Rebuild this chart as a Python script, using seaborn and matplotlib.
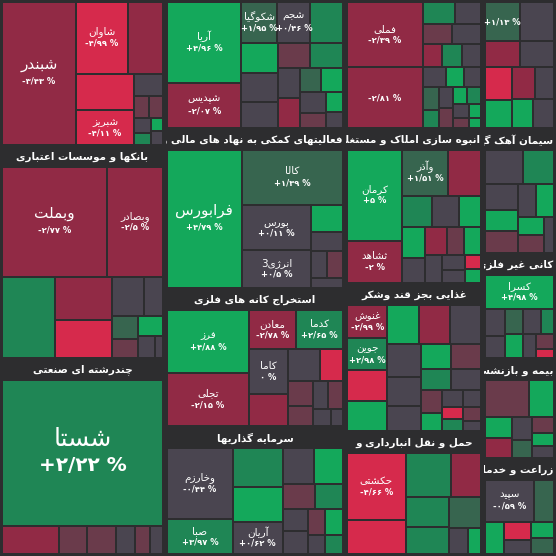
import re
import unicodedata
import matplotlib
matplotlib.use("Agg")
import matplotlib.pyplot as plt
from matplotlib.patches import Rectangle
from matplotlib.transforms import Bbox, TransformedBbox
import seaborn as sns

sns.set_theme(style="white")
plt.rcParams['font.family'] = ['DejaVu Sans']

BG = "#2d2d2f"
PALETTE = {
    'G3': "#14a85b", 'G2': "#1f8655", 'G1': "#37654f", 'N': "#4a4550",
    'R1': "#6a3b4b", 'R2': "#912a45", 'R3': "#d62a4c",
}

# column widths (market-cap shares of the visible window)
col_weights = [165, 180, 138, 73]

# each sector: (title, height weight, tiles); tile = (name, change, colour, size)
col1 = [
    (None, 147, [('شبندر', '-۳/۴۳ %', 'R2', 10000), ('شاوان', '-۴/۹۹ %', 'R3', 3500),
                 ('', '', 'R2', 2400), ('', '', 'R3', 2000), ('شبریز', '-۴/۱۱ %', 'R3', 1900),
                 ('', '', 'N', 600), ('', '', 'R1', 300), ('', '', 'R1', 300), ('', '', 'N', 250),
                 ('', '', 'G2', 200), ('', '', 'G3', 150), ('', '', 'N', 150)]),
    ('بانکها و موسسات اعتباری', 213,
     [('وبملت', '-۲/۷۷ %', 'R2', 9500), ('وبصادر', '-۲/۵ %', 'R2', 5000), ('', '', 'G2', 3500),
      ('', '', 'R2', 2000), ('', '', 'R3', 1800), ('', '', 'N', 1000), ('', '', 'N', 600),
      ('', '', 'G1', 500), ('', '', 'R1', 400), ('', '', 'G3', 400), ('', '', 'N', 300),
      ('', '', 'N', 150)]),
    ('چندرشته ای صنعتی', 196,
     [('شستا', '+۲/۲۲ %', 'G2', 27000), ('', '', 'R2', 1800), ('', '', 'R1', 900),
      ('', '', 'R1', 900), ('', '', 'N', 600), ('', '', 'R1', 500), ('', '', 'N', 400)]),
]
col2 = [
    (None, 130, [('آریا', '+۴/۹۶ %', 'G3', 4500), ('شپدیس', '-۲/۰۷ %', 'R2', 2500),
                 ('شکوگیا', '+۱/۹۵ %', 'G1', 1100), ('شجم', '+۰/۴۶ %', 'N', 1000),
                 ('', '', 'G2', 1000), ('', '', 'G3', 800), ('', '', 'N', 800), ('', '', 'N', 700),
                 ('', '', 'R1', 600), ('', '', 'G2', 600), ('', '', 'N', 500), ('', '', 'R2', 500),
                 ('', '', 'G1', 400), ('', '', 'G3', 400), ('', '', 'N', 400), ('', '', 'R1', 300),
                 ('', '', 'G3', 250), ('', '', 'N', 200)]),
    ('فعالیتهای کمکی به نهاد های مالی واسط', 160,
     [('فرابورس', '+۴/۷۹ %', 'G3', 9800), ('کالا', '+۱/۳۹ %', 'G1', 5300),
      ('بورس', '+۰/۱۱ %', 'N', 3000), ('انرژی3', '+۰/۵ %', 'N', 2500), ('', '', 'G3', 800),
      ('', '', 'N', 600), ('', '', 'N', 400), ('', '', 'R1', 400), ('', '', 'N', 300)]),
    ('استخراج کانه های فلزی', 138,
     [('فرز', '+۴/۸۸ %', 'G3', 5000), ('تجلی', '-۲/۱۵ %', 'R2', 4200),
      ('معادن', '-۲/۷۸ %', 'R2', 1800), ('کدما', '+۲/۶۵ %', 'G2', 1800), ('کاما', '۰ %', 'N', 1700),
      ('', '', 'R2', 1200), ('', '', 'N', 1000), ('', '', 'R3', 700), ('', '', 'R1', 600),
      ('', '', 'R1', 500), ('', '', 'N', 400), ('', '', 'R1', 400), ('', '', 'N', 300),
      ('', '', 'N', 200)]),
    ('سرمایه گذاریها', 128,
     [('وخارزم', '-۰/۴۴ %', 'N', 4100), ('صبا', '+۳/۹۷ %', 'G2', 2000), ('', '', 'G2', 1700),
      ('', '', 'G3', 1500), ('آریان', '+۰/۶۲ %', 'N', 1400), ('', '', 'N', 1000),
      ('', '', 'G3', 900), ('', '', 'R1', 700), ('', '', 'G2', 600), ('', '', 'N', 500),
      ('', '', 'N', 500), ('', '', 'R1', 400), ('', '', 'G3', 400), ('', '', 'N', 300),
      ('', '', 'G2', 300)]),
]
col3 = [
    (None, 130, [('فملی', '-۲/۳۹ %', 'R2', 4300), ('', '-۲/۸۱ %', 'R2', 4000),
                 ('', '', 'G2', 600), ('', '', 'N', 500), ('', '', 'R1', 500), ('', '', 'N', 500),
                 ('', '', 'R2', 400), ('', '', 'G2', 400), ('', '', 'N', 400), ('', '', 'N', 400),
                 ('', '', 'G3', 300), ('', '', 'N', 300), ('', '', 'G1', 300), ('', '', 'G2', 250),
                 ('', '', 'N', 250), ('', '', 'R1', 250), ('', '', 'G3', 200), ('', '', 'G2', 200),
                 ('', '', 'N', 200), ('', '', 'R1', 150), ('', '', 'G3', 150), ('', '', 'G3', 100)]),
    ('انبوه سازی املاک و مستغلات', 155,
     [('کرمان', '+۵ %', 'G3', 4300), ('ثشاهد', '-۲ %', 'R2', 2000), ('وآذر', '+۱/۵۱ %', 'G1', 1800),
      ('', '', 'R2', 1300), ('', '', 'G2', 800), ('', '', 'N', 700), ('', '', 'G3', 600),
      ('', '', 'G3', 600), ('', '', 'N', 500), ('', '', 'R2', 500), ('', '', 'R1', 400),
      ('', '', 'G3', 400), ('', '', 'N', 400), ('', '', 'N', 300), ('', '', 'N', 250),
      ('', '', 'R3', 200), ('', '', 'G3', 200)]),
    ('غذایی بجز قند وشکر', 148,
     [('غنوش', '-۲/۹۹ %', 'R2', 1100), ('جوین', '+۲/۹۸ %', 'G2', 1050), ('', '', 'R3', 1000),
      ('', '', 'G3', 1000), ('', '', 'G3', 1000), ('', '', 'R2', 1000), ('', '', 'N', 1000),
      ('', '', 'N', 900), ('', '', 'N', 800), ('', '', 'N', 700), ('', '', 'G3', 600),
      ('', '', 'R1', 600), ('', '', 'G2', 500), ('', '', 'N', 500), ('', '', 'R1', 400),
      ('', '', 'G3', 300), ('', '', 'N', 300), ('', '', 'N', 250), ('', '', 'R3', 200),
      ('', '', 'G2', 200), ('', '', 'R1', 200), ('', '', 'N', 150)]),
    ('حمل و نقل انبارداری و', 123,
     [('حکشتی', '-۴/۶۶ %', 'R3', 4800), ('', '', 'R3', 2400), ('', '', 'G2', 2400),
      ('', '', 'R2', 1600), ('', '', 'G2', 1600), ('', '', 'G2', 1400), ('', '', 'G1', 1200),
      ('', '', 'N', 600), ('', '', 'G3', 400)]),
]
col4 = [
    (None, 130, [('', '+۱/۱۳ %', 'G1', 900), ('', '', 'N', 900), ('', '', 'R2', 600),
                 ('', '', 'N', 600), ('', '', 'R3', 600), ('', '', 'G3', 500), ('', '', 'R2', 500),
                 ('', '', 'N', 400), ('', '', 'G3', 400), ('', '', 'N', 400)]),
    ('سیمان آهک گچ', 125,
     [('', '', 'N', 1100), ('', '', 'G2', 900), ('', '', 'N', 700), ('', '', 'G3', 600),
      ('', '', 'R1', 600), ('', '', 'N', 500), ('', '', 'G3', 500), ('', '', 'G3', 400),
      ('', '', 'R1', 400), ('', '', 'N', 300)]),
    ('کانی غیر فلزی', 105,
     [('کسرا', '+۴/۹۸ %', 'G3', 2200), ('', '', 'N', 500), ('', '', 'N', 400), ('', '', 'G1', 400),
      ('', '', 'G3', 400), ('', '', 'N', 400), ('', '', 'G2', 300), ('', '', 'N', 300),
      ('', '', 'R1', 250), ('', '', 'R3', 150)]),
    ('بیمه و بازنشستگی', 100,
     [('', '', 'R1', 1800), ('', '', 'G3', 1000), ('', '', 'G3', 600), ('', '', 'R2', 600),
      ('', '', 'N', 500), ('', '', 'G1', 400), ('', '', 'R1', 400), ('', '', 'G3', 300),
      ('', '', 'N', 300)]),
    ('زراعت و خدمات', 96,
     [('سپید', '-۰/۵۹ %', 'N', 1700), ('', '', 'G1', 700), ('', '', 'G3', 500), ('', '', 'R3', 400),
      ('', '', 'N', 300), ('', '', 'G3', 300), ('', '', 'G1', 300)]),
]
columns = [col1, col2, col3, col4]


# --- minimal Persian shaping (no external reshaper available) ---
FORMS = {}
for rng in (range(0xFB50, 0xFE00), range(0xFE70, 0xFF00)):
    for cp in rng:
        m = re.match(r'ARABIC LETTER (.+) (ISOLATED|FINAL|INITIAL|MEDIAL) FORM$',
                     unicodedata.name(chr(cp), ''))
        if not m:
            continue
        try:
            base = unicodedata.lookup('ARABIC LETTER ' + m.group(1))
        except KeyError:
            continue
        FORMS.setdefault(base, {}).setdefault(m.group(2).lower(), chr(cp))


def shape(text):
    out = []
    for i, c in enumerate(text):
        f = FORMS.get(c)
        if not f:
            out.append(c)
            continue
        prev = text[i - 1] if i > 0 else ''
        nxt = text[i + 1] if i + 1 < len(text) else ''
        p = prev in FORMS and 'initial' in FORMS[prev]
        n = nxt in FORMS and 'initial' in f
        if p and n and 'medial' in f:
            out.append(f['medial'])
        elif p and 'final' in f:
            out.append(f['final'])
        elif n:
            out.append(f['initial'])
        else:
            out.append(f.get('isolated', c))
    return ''.join(out)[::-1]


def squarify(sizes, x, y, w, h):
    total = sum(sizes)
    sizes = [s * w * h / total for s in sizes]
    rects = []
    while sizes:
        short = min(w, h)
        row = [sizes[0]]
        def worst(r):
            s = sum(r)
            return max(max(short * short * v / (s * s), s * s / (short * short * v)) for v in r)
        i = 1
        while i < len(sizes) and worst(row + [sizes[i]]) <= worst(row):
            row.append(sizes[i])
            i += 1
        sizes = sizes[i:]
        s = sum(row)
        if w >= h:
            rw = s / h
            yy = y
            for v in row:
                rects.append((x, yy, rw, v / rw))
                yy += v / rw
            x += rw
            w -= rw
        else:
            rh = s / w
            xx = x
            for v in row:
                rects.append((xx, y, v / rh, rh))
                xx += v / rh
            y += rh
            h -= rh
    return rects


fig = plt.figure(figsize=(5.56, 5.56), dpi=100)
fig.patch.set_facecolor(BG)
ax = fig.add_axes([0, 0, 1, 1])
ax.set_facecolor(BG)
ax.set_xlim(0, 556)
ax.set_ylim(556, 0)
ax.axis('off')
fig.canvas.draw()
renderer = fig.canvas.get_renderer()

HEADER = 18
GAP = 2
cx = 0
total_w = sum(col_weights)
for cw, col in zip(col_weights, columns):
    w = 556 * cw / total_w
    total_h = sum(s[1] for s in col)
    cy = 0
    for title, sh, tiles in col:
        h = 556 * sh / total_h
        by, bh = cy, h
        if title:
            t = ax.text(cx + w / 2, cy + HEADER / 2 + 1, shape(title), color='white', fontsize=7.5,
                        fontweight='bold', ha='center', va='center')
            tw = t.get_window_extent(renderer).width
            if tw > w - 6:
                t.set_ha('right')
                t.set_x(cx + w - 3)
                t.set_clip_box(TransformedBbox(Bbox.from_bounds(cx + 1, cy, w - 2, HEADER),
                                               ax.transData))
                t.set_clip_on(True)
            by, bh = cy + HEADER, h - HEADER
        rects = squarify([t[3] for t in tiles], cx + GAP, by + GAP, w - 2 * GAP, bh - 2 * GAP)
        for (name, chg, col_key, _), (rx, ry, rw, rh) in zip(tiles, rects):
            ax.add_patch(Rectangle((rx + GAP / 2, ry + GAP / 2), rw - GAP, rh - GAP,
                                   facecolor=PALETTE[col_key], edgecolor='none'))
            if (name or chg) and rw > 28 and rh > 22:
                big = rw * rh > 20000
                fs = 18 if big else (11 if rw * rh > 8000 else 7.5)
                mx, my = rx + rw / 2, ry + rh / 2
                if name:
                    ax.text(mx, my - fs * 0.8, shape(name), color='white', fontsize=fs,
                            ha='center', va='center')
                ax.text(mx, my + fs * 0.7 if name else my, chg, color='white',
                        fontsize=fs * 0.8 if big else 6, fontweight='bold', ha='center', va='center')
        cy += h
    cx += w

fig.savefig('out.png', dpi=100, facecolor=BG)
